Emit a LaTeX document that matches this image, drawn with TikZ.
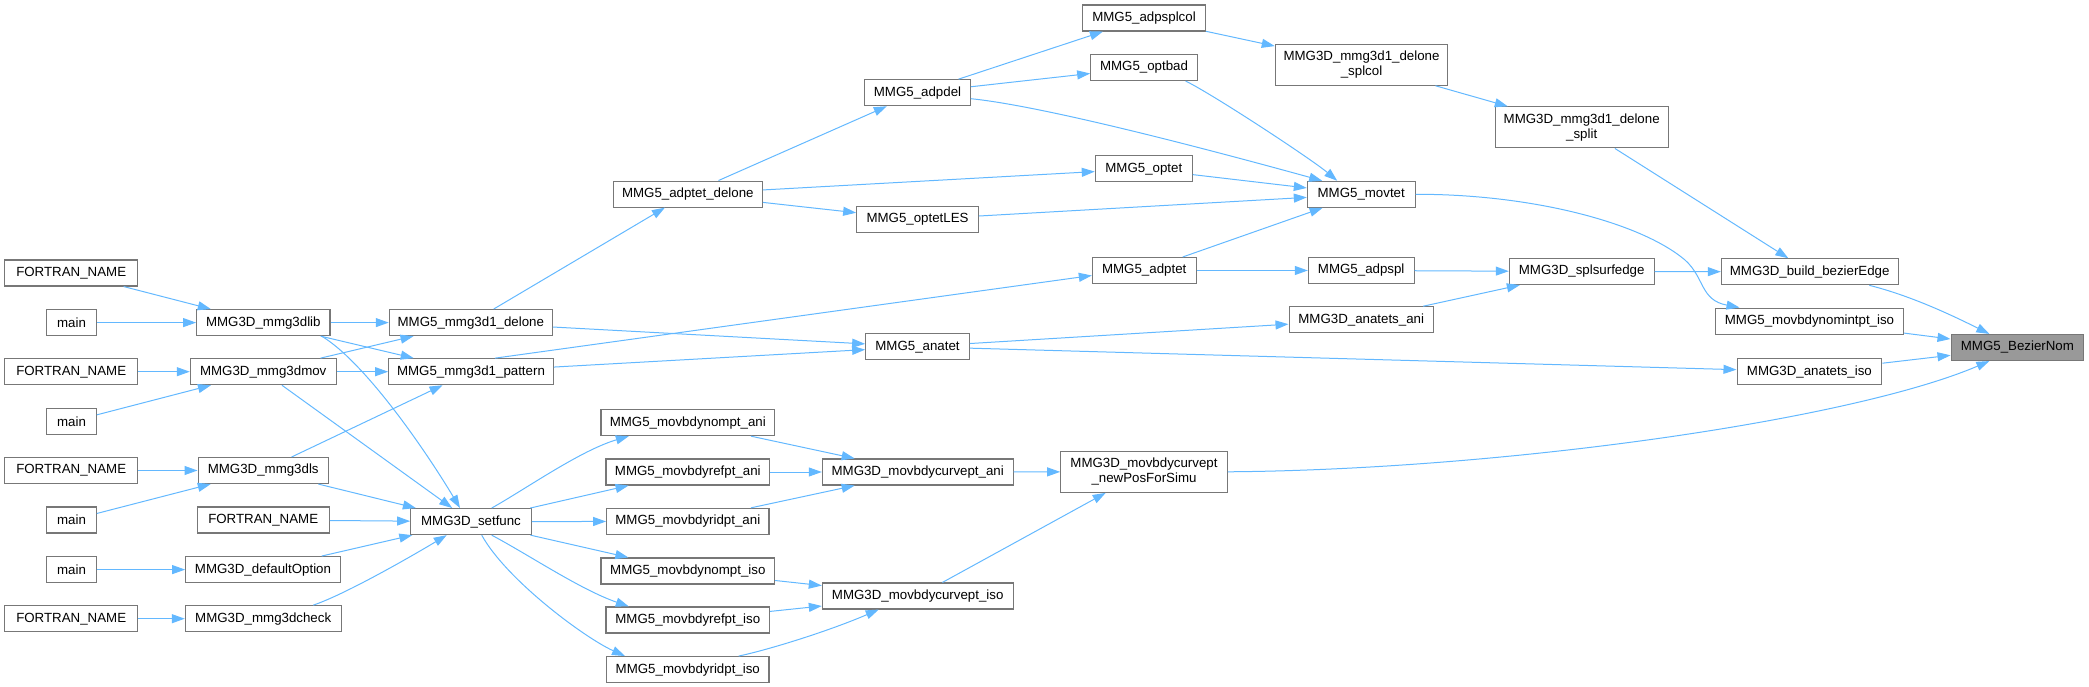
\documentclass[tikz,border=0pt]{standalone}
\usepackage{fontspec}
\setmainfont{Liberation Sans}
\usetikzlibrary{arrows.meta}
\definecolor{edgeblue}{HTML}{63B8FF}
\definecolor{boxline}{HTML}{777777}
\definecolor{rootfill}{HTML}{999999}
\begin{document}
\begin{tikzpicture}[x=1pt,y=-1pt,
 box/.style={draw=boxline, fill=white, line width=1.1pt, inner sep=0pt, minimum height=26pt, font=\fontsize{13.3}{15}\selectfont, text=black, align=center},
 two/.style={minimum height=41pt},
 root/.style={fill=rootfill},
 edge/.style={draw=edgeblue, line width=1pt, -{Triangle[length=13pt,width=9pt]}},
]
\useasboundingbox (0,0) rectangle (2089,687);
\node[box,minimum width=133pt] (f1) at (71.2,273) {FORTRAN\_NAME};
\node[box,minimum width=49.6pt] (m1) at (71.5,322.6) {main};
\node[box,minimum width=133pt] (f2) at (71.2,371.7) {FORTRAN\_NAME};
\node[box,minimum width=49.6pt] (m2) at (71.5,421.4) {main};
\node[box,minimum width=133pt] (f3) at (71.2,470.5) {FORTRAN\_NAME};
\node[box,minimum width=49.6pt] (m3) at (71.5,520) {main};
\node[box,minimum width=49.6pt] (m4) at (71.5,569.6) {main};
\node[box,minimum width=133pt] (f5) at (71.2,618.7) {FORTRAN\_NAME};
\node[box,minimum width=133.3pt] (lib) at (263.3,322.6) {MMG3D\_mmg3dlib};
\node[box,minimum width=145.7pt] (mov) at (263.2,371.7) {MMG3D\_mmg3dmov};
\node[box,minimum width=130.3pt] (ls) at (263.2,470.5) {MMG3D\_mmg3dls};
\node[box,minimum width=132.3pt] (f4) at (263.2,520) {FORTRAN\_NAME};
\node[box,minimum width=154.6pt] (defopt) at (263,569.6) {MMG3D\_defaultOption};
\node[box,minimum width=155.7pt] (check) at (263.2,618.7) {MMG3D\_mmg3dcheck};
\node[box,minimum width=163pt] (delone) at (470.8,322.6) {MMG5\_mmg3d1\_delone};
\node[box,minimum width=164.6pt] (pattern) at (471,371.7) {MMG5\_mmg3d1\_pattern};
\node[box,minimum width=120.6pt] (setfunc) at (471,521.6) {MMG3D\_setfunc};
\node[box,minimum width=149pt] (adptetdel) at (687.8,194.1) {MMG5\_adptet\_delone};
\node[box,minimum width=173.7pt] (nomani) at (687.8,422.6) {MMG5\_movbdynompt\_ani};
\node[box,minimum width=163.7pt] (refani) at (687.8,472) {MMG5\_movbdyrefpt\_ani};
\node[box,minimum width=162.3pt] (ridani) at (687.8,521.4) {MMG5\_movbdyridpt\_ani};
\node[box,minimum width=173.7pt] (nomiso) at (687.8,571) {MMG5\_movbdynompt\_iso};
\node[box,minimum width=163.7pt] (refiso) at (687.8,620) {MMG5\_movbdyrefpt\_iso};
\node[box,minimum width=162.3pt] (ridiso) at (687.8,669.6) {MMG5\_movbdyridpt\_iso};
\node[box,minimum width=105.6pt] (adpdel) at (917.5,92.7) {MMG5\_adpdel};
\node[box,minimum width=121.6pt] (optetles) at (917.5,219.5) {MMG5\_optetLES};
\node[box,minimum width=103.6pt] (anatet) at (917.5,346.7) {MMG5\_anatet};
\node[box,minimum width=190.7pt] (curveani) at (917.7,472) {MMG3D\_movbdycurvept\_ani};
\node[box,minimum width=190.7pt] (curveiso) at (917.7,596) {MMG3D\_movbdycurvept\_iso};
\node[box,minimum width=122.6pt] (adpsplcol) at (1144,18) {MMG5\_adpsplcol};
\node[box,minimum width=106.6pt] (optbad) at (1144,67.5) {MMG5\_optbad};
\node[box,minimum width=97pt] (optet) at (1143.8,168.9) {MMG5\_optet};
\node[box,minimum width=103.7pt] (adptet) at (1144.2,270.5) {MMG5\_adptet};
\node[box,two,minimum width=166.6pt] (newpos) at (1144,471.8) {MMG3D\_movbdycurvept\\\_newPosForSimu};
\node[box,two,minimum width=172.4pt] (splcol) at (1361.5,64.7) {MMG3D\_mmg3d1\_delone\\\_splcol};
\node[box,minimum width=107.7pt] (movtet) at (1361.2,194.3) {MMG5\_movtet};
\node[box,minimum width=105.7pt] (adpspl) at (1361.2,270.5) {MMG5\_adpspl};
\node[box,minimum width=144.3pt] (anaani) at (1361.2,319.8) {MMG3D\_anatets\_ani};
\node[box,two,minimum width=172.7pt] (split) at (1581.7,127.4) {MMG3D\_mmg3d1\_delone\\\_split};
\node[box,minimum width=144.7pt] (surf) at (1581.7,271.5) {MMG3D\_splsurfedge};
\node[box,minimum width=176.7pt] (build) at (1809.7,271.8) {MMG3D\_build\_bezierEdge};
\node[box,minimum width=187.6pt] (nomint) at (1809.5,321.1) {MMG5\_movbdynomintpt\_iso};
\node[box,minimum width=144.7pt] (anaiso) at (1809.4,371.7) {MMG3D\_anatets\_iso};
\node[box,root,minimum width=132.7pt] (bez) at (2017.4,347.5) {MMG5\_BezierNom};
% edges
\draw[edge] (f1) -- (lib);
\draw[edge] (m1) -- (lib);
\draw[edge] (f2) -- (mov);
\draw[edge] (m2) -- (mov);
\draw[edge] (f3) -- (ls);
\draw[edge] (m3) -- (ls);
\draw[edge] (f4) -- (setfunc);
\draw[edge] (m4) -- (defopt);
\draw[edge] (f5) -- (check);
\draw[edge] (lib) -- (delone);
\draw[edge] (lib) -- (pattern);
\draw[edge] ([xshift=58.4pt]lib.south) .. controls +(43,26) and +(-35,-58.6) .. ([xshift=-11pt]setfunc.north);
\draw[edge] (mov) -- (delone);
\draw[edge] (mov) -- (pattern);
\draw[edge] (mov) -- (setfunc);
\draw[edge] (ls) -- (pattern);
\draw[edge] (ls) -- (setfunc);
\draw[edge] (defopt) -- (setfunc);
\draw[edge] ([xshift=50pt]check.north) .. controls +(30,-10) and +(-40,24) .. ([xshift=-24.3pt]setfunc.south);
\draw[edge] (delone) -- (adptetdel);
\draw[edge] (delone) -- (anatet);
\draw[edge] ([xshift=24pt]pattern.north) -- ([yshift=-5pt]adptet.west);
\draw[edge] (pattern) -- (anatet);
\draw[edge] (adptetdel) -- (adpdel);
\draw[edge] (adptetdel) -- (optet);
\draw[edge] (adptetdel) -- (optetles);
\draw[edge] (adpdel) -- (adpsplcol);
\draw[edge] (adpdel) -- (optbad);
\draw[edge] ([yshift=-6pt]adpdel.east) .. controls +(80,8) and +(-80,-22) .. ([xshift=-39pt]movtet.north);
\draw[edge] ([xshift=41.7pt]optbad.south) .. controls +(30,15) and +(-25,-21) .. ([xshift=-24pt]movtet.north);
\draw[edge] (optet) -- (movtet);
\draw[edge] (optetles) -- (movtet);
\draw[edge] (adptet) -- (movtet);
\draw[edge] (adptet) -- (adpspl);
\draw[edge] (adpsplcol) -- (splcol);
\draw[edge] (splcol) -- (split);
\draw[edge] (split) -- (build);
\draw[edge] (movtet.east) .. controls (1530,194) and (1640,222) .. (1685,260) .. controls (1705,278) and (1700,300) .. ([xshift=-70pt]nomint.north);
\draw[edge] (adpspl) -- (surf);
\draw[edge] (anaani) -- (surf);
\draw[edge] (surf) -- (build);
\draw[edge] (anatet) -- (anaani);
\draw[edge] (anatet) -- (anaiso);
\draw[edge] ([xshift=59.6pt]build.south) .. controls +(40,10) and +(-40,-20) .. ([xshift=-28pt]bez.north);
\draw[edge] (nomint) -- (bez);
\draw[edge] (anaiso) -- (bez);
\draw[edge] (newpos.east) .. controls +(273,-2) and +(-139.4,59.5) .. ([xshift=-28pt]bez.south);
\draw[edge] ([xshift=20.7pt]setfunc.north) .. controls +(33.3,-18.6) and +(-48.7,14.4) .. ([xshift=-59pt]nomani.south);
\draw[edge] (setfunc) -- (refani);
\draw[edge] (setfunc) -- (ridani);
\draw[edge] (setfunc) -- (nomiso);
\draw[edge] ([xshift=20.7pt]setfunc.south) .. controls +(38.3,20.4) and +(-48.7,-17) .. ([xshift=-59pt]refiso.north);
\draw[edge] ([xshift=10.7pt]setfunc.south) .. controls +(25,45) and +(-40,-18) .. ([xshift=-62.8pt]ridiso.north);
\draw[edge] (nomani) -- (curveani);
\draw[edge] (refani) -- (curveani);
\draw[edge] (ridani) -- (curveani);
\draw[edge] (nomiso) -- (curveiso);
\draw[edge] (refiso) -- (curveiso);
\draw[edge] ([xshift=50.9pt]ridiso.north) .. controls +(31.3,-6.6) and +(-48.7,21) .. ([xshift=-39pt]curveiso.south);
\draw[edge] (curveani) -- (newpos);
\draw[edge] (curveiso) -- (newpos);
\end{tikzpicture}
\end{document}
